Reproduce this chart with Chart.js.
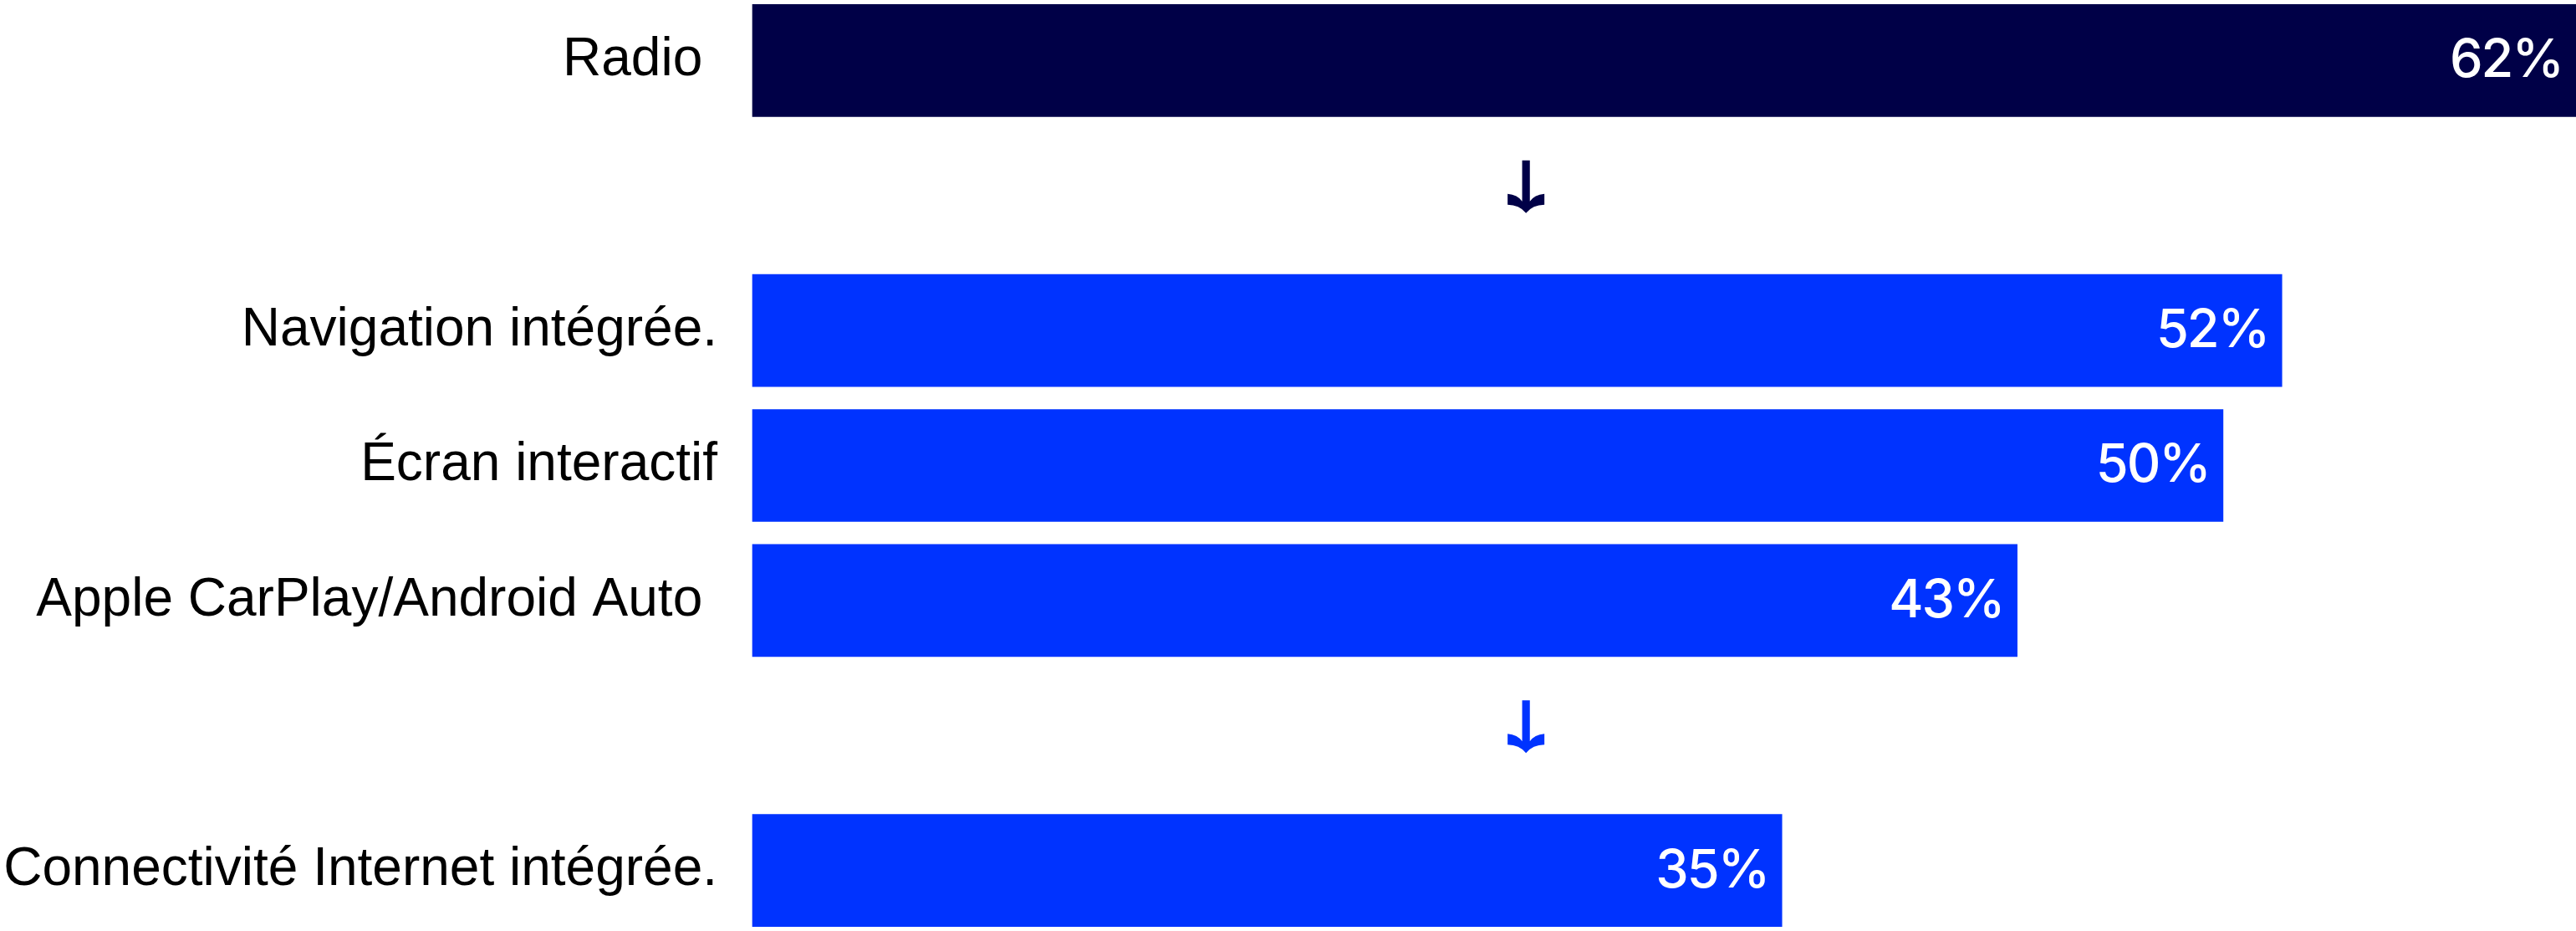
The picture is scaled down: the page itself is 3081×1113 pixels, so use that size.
<!DOCTYPE html>
<html>
<head>
<meta charset="utf-8">
<script src="https://cdn.jsdelivr.net/npm/chart.js@4"></script>
<style>
  html, body { margin: 0; padding: 0; background: #fff; }
  #wrap { width: 3081px; height: 1113px; }
</style>
</head>
<body>
<div id="wrap"><canvas id="chart" width="3081" height="1113"></canvas></div>
<script>
// empty labels are the spacer rows holding the arrows
const categories = ["Radio ", "", "Navigation intégrée.", "Écran interactif", "Apple CarPlay/Android Auto ", "", "Connectivité Internet intégrée."]
const values = [62, null, 52, 50, 43, null, 35]
const barColors = ["#000047", null, "#0033FF", "#0033FF", "#0033FF", null, "#0033FF"]
const arrowRows = [1, 5]
const arrowColors = ["#000047", "#0033FF"]

function drawArrow(ctx, cx, yc) {
  const top = yc - 42, ty = yc + 21, s = 4.6
  ctx.beginPath()
  ctx.moveTo(cx - s, top)
  ctx.lineTo(cx - s, ty - 14)
  ctx.quadraticCurveTo(cx - 10, ty - 22, cx - 22, ty - 23)
  ctx.lineTo(cx - 22, ty - 10)
  ctx.quadraticCurveTo(cx - 8, ty - 10, cx, ty)
  ctx.quadraticCurveTo(cx + 8, ty - 10, cx + 22, ty - 10)
  ctx.lineTo(cx + 22, ty - 23)
  ctx.quadraticCurveTo(cx + 10, ty - 22, cx + s, ty - 14)
  ctx.lineTo(cx + s, top)
  ctx.closePath()
  ctx.fill()
}

const valueLabels = {
  id: "valueLabels",
  afterDatasetsDraw(chart) {
    const ctx = chart.ctx
    const meta = chart.getDatasetMeta(0)
    ctx.save()
    ctx.fillStyle = "#fff"
    ctx.font = "500 63px Inter"
    ctx.letterSpacing = "-2px"
    ctx.textAlign = "right"
    ctx.textBaseline = "middle"
    meta.data.forEach((bar, i) => {
      if (values[i] == null) return
      ctx.fillText(values[i] + "%", bar.x - 16, bar.y + 1)
    })
    ctx.letterSpacing = "0px"
    // arrows between the groups
    const x = chart.scales.x.getPixelForValue(26.3)
    arrowRows.forEach((row, k) => {
      ctx.fillStyle = arrowColors[k]
      drawArrow(ctx, x, chart.scales.y.getPixelForValue(row))
    })
    ctx.restore()
  }
}

const ctx = document.getElementById("chart").getContext("2d")
new Chart(ctx, {
  type: "bar",
  data: {
    labels: categories,
    datasets: [{
      data: values,
      backgroundColor: barColors,
      barThickness: 134,
      clip: false
    }]
  },
  options: {
    indexAxis: "y",
    responsive: false,
    animation: false,
    devicePixelRatio: 1,
    layout: { padding: { top: 55, bottom: 54, left: 0, right: 0 } },
    plugins: {
      legend: { display: false },
      tooltip: { enabled: false }
    },
    scales: {
      x: {
        display: false,
        min: 0,
        max: 62
      },
      y: {
        offset: false,
        grid: { display: false },
        border: { display: false },
        afterFit: scale => { scale.width = 900 },
        ticks: {
          padding: 34,
          color: "#000",
          font: { family: "'Liberation Sans', Arial, sans-serif", size: 64 }
        }
      }
    }
  },
  plugins: [valueLabels]
})
</script>
</body>
</html>
